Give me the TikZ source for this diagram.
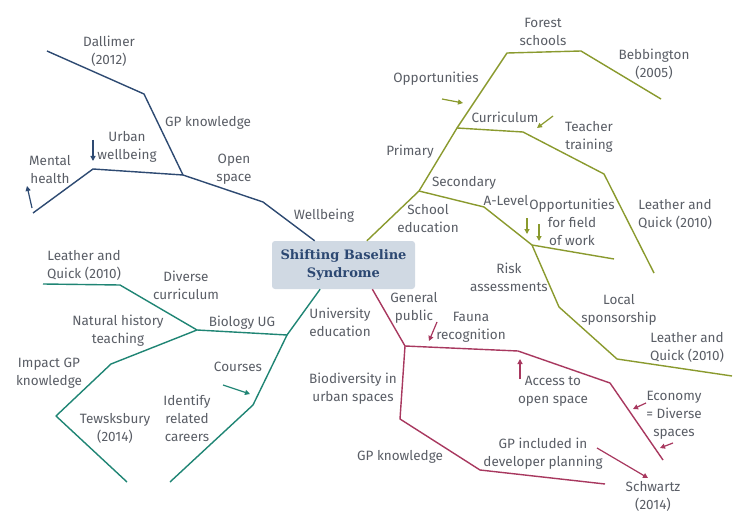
\documentclass[tikz,border=0pt]{standalone}
\usepackage{fontspec}
\setmainfont{Fira Sans}
\newfontfamily\titlefont{DejaVu Serif}
\usetikzlibrary{arrows.meta}
\definecolor{navyc}{HTML}{2E4A72}
\definecolor{olivec}{HTML}{8A9A2E}
\definecolor{tealc}{HTML}{1F8574}
\definecolor{crimc}{HTML}{A8385F}
\definecolor{boxc}{HTML}{D0D9E3}
\definecolor{titlec}{HTML}{2C4872}
\definecolor{txtc}{HTML}{5A5E66}
\begin{document}
\begin{tikzpicture}[x=1pt,y=-1pt,
  lbl/.style={align=center, text=txtc, font=\fontsize{13.5}{18}\selectfont, inner sep=0pt},
  br/.style={line width=1.4pt, line join=round},
  arr/.style={line width=1.2pt, -{Triangle[length=5pt,width=5pt]}}
]
\useasboundingbox (0,0) rectangle (750,532);
\fill[white] (0,0) rectangle (750,532);

% central node
\node[fill=boxc, rounded corners=3pt, minimum width=143pt, minimum height=48pt, inner sep=0pt,
  align=center, text=titlec, font=\titlefont\bfseries\fontsize{13}{18.3}\selectfont] (c) at (343.5,265) {Shifting Baseline\\Syndrome};

% ---------- navy branch ----------
\coordinate (n0) at (47,51);
\coordinate (n1) at (144,94);
\coordinate (n2) at (183,175);
\coordinate (n3) at (263,202);
\coordinate (m0) at (33,213);
\coordinate (m1) at (93,169);
\draw[br, navyc] (n0) -- (n1) -- (n2) -- (n3) -- (c.140);
\draw[br, navyc] (m0) -- (m1) -- (n2);
\coordinate (na1s) at (93,140); \coordinate (na1e) at (93,161);
\coordinate (na2s) at (32,208); \coordinate (na2e) at (27,186);
\draw[arr, navyc] (na1s) -- (na1e);
\draw[arr, navyc] (na2s) -- (na2e);

\node[lbl] (l-dal) at (109,51) {Dallimer\\(2012)};
\node[lbl] (l-gpk) at (208,123) {GP knowledge};
\node[lbl] (l-urb) at (127,147) {Urban\\wellbeing};
\node[lbl] (l-men) at (50,170) {Mental\\health};
\node[lbl] (l-ope) at (234,169) {Open\\space};
\node[lbl] (l-wel) at (324,216) {Wellbeing};

% ---------- olive branch ----------
\coordinate (S) at (419,191);
\coordinate (P) at (457,128);
\coordinate (g1) at (507,53);
\coordinate (g2) at (581,51);
\coordinate (g3) at (661,99);
\coordinate (t1) at (523,132);
\coordinate (t2) at (604,174);
\coordinate (t3) at (654,273);
\coordinate (a1) at (484,207);
\coordinate (A) at (532,245);
\coordinate (f1) at (614,259);
\coordinate (r1) at (559,307);
\coordinate (r2) at (617,359);
\coordinate (r3) at (732,376);
\draw[br, olivec] (c.46) -- (S) -- (P) -- (g1) -- (g2) -- (g3);
\draw[br, olivec] (P) -- (t1) -- (t2) -- (t3);
\draw[br, olivec] (S) -- (a1) -- (A) -- (f1);
\draw[br, olivec] (A) -- (r1) -- (r2) -- (r3);
\coordinate (oa1s) at (442,99);  \coordinate (oa1e) at (463,103);
\coordinate (oa2s) at (553,116); \coordinate (oa2e) at (537,128);
\coordinate (oa3s) at (527,218); \coordinate (oa3e) at (527,234);
\coordinate (oa4s) at (539,224); \coordinate (oa4e) at (539,241);
\draw[arr, olivec] (oa1s) -- (oa1e);
\draw[arr, olivec] (oa2s) -- (oa2e);
\draw[arr, olivec] (oa3s) -- (oa3e);
\draw[arr, olivec] (oa4s) -- (oa4e);

\node[lbl] (l-for) at (543,32) {Forest\\schools};
\node[lbl] (l-beb) at (654,64) {Bebbington\\(2005)};
\node[lbl] (l-opp) at (436,79) {Opportunities};
\node[lbl] (l-cur) at (505,117) {Curriculum};
\node[lbl] (l-tea) at (589,137) {Teacher\\training};
\node[lbl] (l-pri) at (410,152) {Primary};
\node[lbl] (l-sec) at (464,183) {Secondary};
\node[lbl] (l-sch) at (428,219) {School\\education};
\node[lbl] (l-ale) at (506,201) {A-Level};
\node[lbl] (l-off) at (572,222) {Opportunities\\for field\\of work};
\node[lbl] (l-lq1) at (675,214) {Leather and\\Quick (2010)};
\node[lbl] (l-ris) at (509,277) {Risk\\assessments};
\node[lbl] (l-loc) at (619,310) {Local\\sponsorship};
\node[lbl] (l-lq2) at (687,347) {Leather and\\Quick (2010)};

% ---------- teal branch ----------
\coordinate (U) at (287,335);
\coordinate (B) at (197,330);
\coordinate (q1) at (120,285);
\coordinate (q2) at (43,284);
\coordinate (h1) at (111,364);
\coordinate (h2) at (56,416);
\coordinate (h3) at (127,482);
\coordinate (k1) at (253,405);
\coordinate (k2) at (170,482);
\draw[br, tealc] (c.-134) -- (U) -- (B) -- (q1) -- (q2);
\draw[br, tealc] (B) -- (h1) -- (h2) -- (h3);
\draw[br, tealc] (U) -- (k1) -- (k2);
\coordinate (ta1s) at (223,385); \coordinate (ta1e) at (250,394);
\draw[arr, tealc] (ta1s) -- (ta1e);

\node[lbl] (l-lq3) at (84,265) {Leather and\\Quick (2010)};
\node[lbl] (l-div) at (186,285) {Diverse\\curriculum};
\node[lbl] (l-nat) at (118,331) {Natural history\\teaching};
\node[lbl] (l-bio) at (242,323) {Biology UG};
\node[lbl] (l-uni) at (340,322) {University\\education};
\node[lbl] (l-imp) at (49,373) {Impact GP\\knowledge};
\node[lbl] (l-cou) at (238,367) {Courses};
\node[lbl] (l-ide) at (187,418) {Identify\\related\\careers};
\node[lbl] (l-tew) at (115,428) {Tewsksbury\\(2014)};

% ---------- crimson branch ----------
\coordinate (G) at (405,346);
\coordinate (e1) at (518,351);
\coordinate (e2) at (610,383);
\coordinate (e3) at (663,460);
\coordinate (d1) at (400,419);
\coordinate (d2) at (480,470);
\coordinate (d3) at (605,484);
\draw[br, crimc] (c.-40) -- (G) -- (e1) -- (e2) -- (e3);
\draw[br, crimc] (G) -- (d1) -- (d2) -- (d3);
\coordinate (ca1s) at (437,322); \coordinate (ca1e) at (429,341);
\coordinate (ca2s) at (520,379); \coordinate (ca2e) at (520,359);
\coordinate (ca3s) at (646,403); \coordinate (ca3e) at (633,409);
\coordinate (ca4s) at (673,443); \coordinate (ca4e) at (660,448);
\coordinate (ca5s) at (597,448); \coordinate (ca5e) at (648,478);
\draw[arr, crimc] (ca1s) -- (ca1e);
\draw[arr, crimc] (ca2s) -- (ca2e);
\draw[arr, crimc] (ca3s) -- (ca3e);
\draw[arr, crimc] (ca4s) -- (ca4e);
\draw[arr, crimc] (ca5s) -- (ca5e);

\node[lbl] (l-gen) at (414,308) {General\\public};
\node[lbl] (l-fau) at (471,327) {Fauna\\recognition};
\node[lbl] (l-acc) at (553,391) {Access to\\open space};
\node[lbl] (l-eco) at (674,415) {Economy\\= Diverse\\spaces};
\node[lbl] (l-bud) at (353,389) {Biodiversity in\\urban spaces};
\node[lbl] (l-gp2) at (400,457) {GP knowledge};
\node[lbl] (l-gpi) at (543,454) {GP included in\\developer planning};
\node[lbl] (l-sch2) at (653,496) {Schwartz\\(2014)};
\end{tikzpicture}
\end{document}
